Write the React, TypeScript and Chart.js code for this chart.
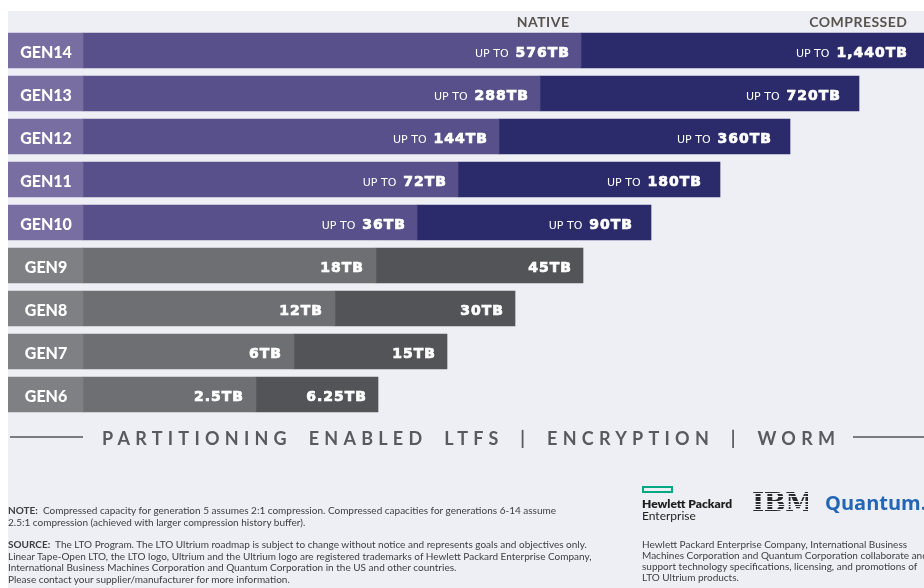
import React, { useEffect, useRef } from 'react';
import { Chart, registerables } from 'chart.js';

Chart.register(...registerables);

// ---- data ----
const generations = ['GEN14', 'GEN13', 'GEN12', 'GEN11', 'GEN10', 'GEN9', 'GEN8', 'GEN7', 'GEN6'];
const nativeCapacity = ['576TB', '288TB', '144TB', '72TB', '36TB', '18TB', '12TB', '6TB', '2.5TB'];
const compressedCapacity = ['1,440TB', '720TB', '360TB', '180TB', '90TB', '45TB', '30TB', '15TB', '6.25TB'];
const upToPrefix = [true, true, true, true, true, false, false, false, false];
const roadmapRow = [true, true, true, true, true, false, false, false, false];
// visual bar lengths of the infographic (not to scale with capacity)
const nativeBarLength = [498, 457, 416, 375, 334, 293, 252, 211, 173];
const compressedBarLength = [843, 776, 707, 637, 568, 500, 432, 364, 295];
const labelColumnWidth = 75;

const taglineWords = ['PARTITIONING', 'ENABLED', 'LTFS', '|', 'ENCRYPTION', '|', 'WORM'];

const BG = '#eeeff4';
const COLORS = {
  labelPurple: '#786ea2',
  nativePurple: '#58508a',
  compPurple: '#2b2b6b',
  labelGray: '#7f8084',
  nativeGray: '#6e6f73',
  compGray: '#535458',
};

function drawValue(ctx: CanvasRenderingContext2D, xr: number, y: number, value: string, upTo: boolean) {
  ctx.textAlign = 'right';
  ctx.fillStyle = '#ffffff';
  ctx.font = '700 14px "DejaVu Sans"';
  (ctx as any).letterSpacing = '1px';
  const w = ctx.measureText(value).width;
  ctx.fillText(value, xr + 1, y);
  ctx.strokeStyle = '#ffffff';
  ctx.lineWidth = 0.7;
  ctx.strokeText(value, xr + 1, y);
  (ctx as any).letterSpacing = '0px';
  if (upTo) {
    ctx.font = '400 11px "DejaVu Sans"';
    ctx.fillText('UP TO', xr - w - 6, y);
  }
}

const labelPlugin = {
  id: 'ltoLabels',
  afterDatasetsDraw(chart: any) {
    const ctx: CanvasRenderingContext2D = chart.ctx;
    const gm = chart.getDatasetMeta(0);
    const nm = chart.getDatasetMeta(1);
    const cm = chart.getDatasetMeta(2);
    ctx.save();
    ctx.textBaseline = 'alphabetic';
    generations.forEach((g, i) => {
      const ge = gm.data[i];
      const y = ge.y;
      ctx.textAlign = 'center';
      ctx.fillStyle = '#ffffff';
      ctx.font = '900 16px Lato';
      ctx.fillText(g, (ge.x + ge.base) / 2 + 0.5, y + 7);
      const ne = nm.data[i];
      drawValue(ctx, ne.x - (roadmapRow[i] ? 12 : 13), y + 6.5, nativeCapacity[i], upToPrefix[i]);
      const ce = cm.data[i];
      drawValue(ctx, ce.x - (roadmapRow[i] ? 19 : 12), y + 6.5, compressedCapacity[i], upToPrefix[i]);
    });
    // column headers
    ctx.fillStyle = '#58534e';
    ctx.font = '700 14px Lato';
    (ctx as any).letterSpacing = '0.5px';
    ctx.textAlign = 'right';
    ctx.fillText('NATIVE', nm.data[0].x - 12 + 0.5, 27);
    ctx.fillText('COMPRESSED', cm.data[0].x - 19 + 0.5, 27);
    (ctx as any).letterSpacing = '0px';
    ctx.restore();
  },
  afterDraw(chart: any) {
    const ctx: CanvasRenderingContext2D = chart.ctx;
    ctx.save();
    // tagline lines
    ctx.strokeStyle = '#55565b';
    ctx.lineWidth = 1.5;
    ctx.beginPath();
    ctx.moveTo(10, 437);
    ctx.lineTo(83, 437);
    ctx.moveTo(853, 437);
    ctx.lineTo(924, 437);
    ctx.stroke();
    // tagline text fitted between x=102 and x=835
    ctx.font = '700 18px Lato';
    ctx.fillStyle = '#595a5f';
    ctx.textAlign = 'left';
    ctx.textBaseline = 'alphabetic';
    const gap = 22;
    const startX = 102;
    const endX = 835;
    (ctx as any).letterSpacing = '0px';
    let sumW = 0;
    let sumGaps = 0;
    taglineWords.forEach((w) => {
      sumW += ctx.measureText(w).width;
      sumGaps += w.length - 1;
    });
    const s = (endX - startX - gap * (taglineWords.length - 1) - sumW) / sumGaps;
    (ctx as any).letterSpacing = s + 'px';
    let x = startX;
    taglineWords.forEach((w) => {
      ctx.fillText(w, x, 445);
      const ww = ctx.measureText(w).width - s; // remove trailing spacing
      x += ww + gap;
    });
    ctx.restore();
  },
};

function TextLine(props: { x: number; baseline: number; size: number; weight?: number; color?: string; family?: string; children: any }) {
  const { x, baseline, size, weight = 400, color = '#3e3e42', family = 'Lato', children } = props;
  return (
    <div
      style={{
        position: 'absolute',
        left: x,
        top: baseline - size * 0.89,
        fontFamily: family,
        fontSize: size,
        fontWeight: weight,
        lineHeight: 1,
        color,
        whiteSpace: 'nowrap',
      }}
    >
      {children}
    </div>
  );
}

export default function App() {
  const ref = useRef<HTMLCanvasElement | null>(null);

  useEffect(() => {
    if (!ref.current) return;
    const chart = new Chart(ref.current, {
      type: 'bar',
      data: {
        labels: generations,
        datasets: [
          {
            label: 'Generation',
            data: generations.map(() => [-labelColumnWidth, 0]) as any,
            backgroundColor: roadmapRow.map((r) => (r ? COLORS.labelPurple : COLORS.labelGray)),
            barThickness: 35,
            grouped: false,
            borderWidth: 0,
          },
          {
            label: 'Native',
            data: nativeBarLength.map((v) => [0, v]) as any,
            backgroundColor: roadmapRow.map((r) => (r ? COLORS.nativePurple : COLORS.nativeGray)),
            barThickness: 35,
            grouped: false,
            borderWidth: 0,
          },
          {
            label: 'Compressed',
            data: compressedBarLength.map((v, i) => [nativeBarLength[i], v]) as any,
            backgroundColor: roadmapRow.map((r) => (r ? COLORS.compPurple : COLORS.compGray)),
            barThickness: 35,
            grouped: false,
            borderWidth: 0,
          },
        ],
      },
      options: {
        indexAxis: 'y',
        animation: false,
        responsive: false,
        devicePixelRatio: 1,
        layout: { padding: { left: 8, right: 0, top: 29, bottom: 172 } },
        plugins: { legend: { display: false }, tooltip: { enabled: false } },
        scales: {
          x: { display: false, min: -labelColumnWidth, max: 841 },
          y: { display: false },
        },
      },
      plugins: [labelPlugin],
    });
    return () => chart.destroy();
  }, []);

  return (
    <div style={{ position: 'fixed', left: 0, top: 0, width: 924, height: 588, background: '#ffffff', overflow: 'hidden' }}>
      <div style={{ position: 'absolute', left: 8, top: 11, right: 0, bottom: 0, background: BG }} />
      <canvas ref={ref} width={924} height={588} style={{ position: 'absolute', left: 0, top: 0, width: 924, height: 588 }} />

      <TextLine x={8} baseline={514} size={10}>
        <b>NOTE:</b>&nbsp; Compressed capacity for generation 5 assumes 2:1 compression. Compressed capacities for generations 6-14 assume
      </TextLine>
      <TextLine x={8} baseline={525.5} size={10}>
        2.5:1 compression (achieved with larger compression history buffer).
      </TextLine>
      <TextLine x={8} baseline={548} size={10}>
        <b>SOURCE:</b>&nbsp; The LTO Program. The LTO Ultrium roadmap is subject to change without notice and represents goals and objectives only.
      </TextLine>
      <TextLine x={8} baseline={559.5} size={10}>
        Linear Tape-Open LTO, the LTO logo, Ultrium and the Ultrium logo are registered trademarks of Hewlett Packard Enterprise Company,
      </TextLine>
      <TextLine x={8} baseline={571} size={10}>
        International Business Machines Corporation and Quantum Corporation in the US and other countries.
      </TextLine>
      <TextLine x={8} baseline={582.5} size={10}>
        Please contact your supplier/manufacturer for more information.
      </TextLine>

      <TextLine x={642} baseline={548} size={10}>
        Hewlett Packard Enterprise Company, International Business
      </TextLine>
      <TextLine x={642} baseline={559} size={10}>
        Machines Corporation and Quantum Corporation collaborate and
      </TextLine>
      <TextLine x={642} baseline={570} size={10}>
        support technology specifications, licensing, and promotions of
      </TextLine>
      <TextLine x={642} baseline={581} size={10}>
        LTO Ultrium products.
      </TextLine>

      {/* logos */}
      <div style={{ position: 'absolute', left: 642, top: 486, width: 27, height: 3, border: '2px solid #01a982' }} />
      <TextLine x={642} baseline={509} size={12} weight={800} color="#1f1f1f">
        Hewlett Packard
      </TextLine>
      <TextLine x={642} baseline={520.5} size={12} weight={400} color="#1f1f1f">
        Enterprise
      </TextLine>
      <div style={{ position: 'absolute', left: 752, top: 489, width: 56, height: 26, overflow: 'hidden' }}>
        <div
          style={{
            position: 'absolute',
            left: 0,
            top: 0,
            fontFamily: '"DejaVu Serif"',
            fontWeight: 700,
            fontSize: 26,
            lineHeight: '26px',
            color: '#2a2a2e',
            letterSpacing: -0.5,
          }}
        >
          IBM
        </div>
        <div
          style={{
            position: 'absolute',
            left: 0,
            top: 0,
            right: 0,
            bottom: 0,
            background: `repeating-linear-gradient(to bottom, transparent 0px, transparent 1.8px, ${BG} 1.8px, ${BG} 2.6px)`,
          }}
        />
      </div>
      <TextLine x={825} baseline={511} size={20} weight={700} color="#2366b5" family='"Open Sans"'>
        Quantum.
      </TextLine>
    </div>
  );
}
